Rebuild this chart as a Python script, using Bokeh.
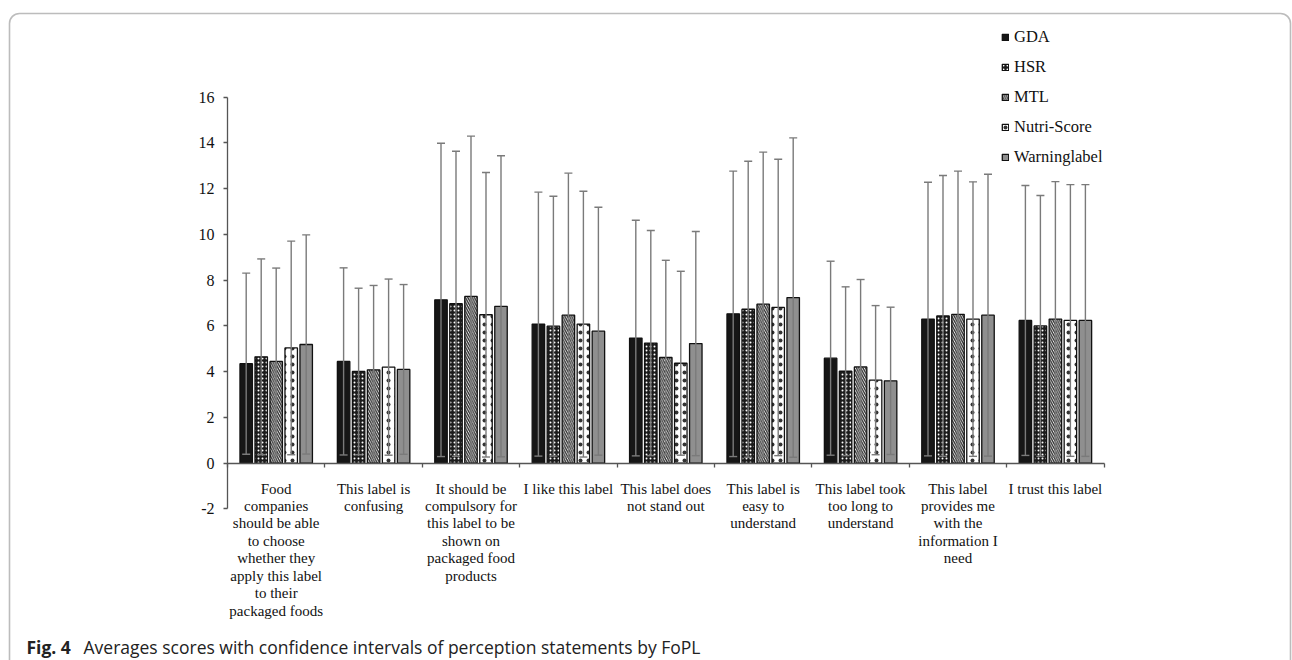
import numpy as np
from bokeh.plotting import figure
from bokeh.models import (ColumnDataSource, Range1d, FixedTicker, Whisker, TeeHead,
                          Legend, LegendItem, Label, BoxAnnotation)
from bokeh.core.properties import value
from bokeh.embed import file_html
from bokeh.resources import INLINE

# ---------------- data ----------------
statements = [
    "Food\ncompanies\nshould be able\nto choose\nwhether they\napply this label\nto their\npackaged foods",
    "This label is\nconfusing",
    "It should be\ncompulsory for\nthis label to be\nshown on\npackaged food\nproducts",
    "I like this label",
    "This label does\nnot stand out",
    "This label is\neasy to\nunderstand",
    "This label took\ntoo long to\nunderstand",
    "This label\nprovides me\nwith the\ninformation I\nneed",
    "I trust this label",
]
labels = ["GDA", "HSR", "MTL", "Nutri-Score", "Warninglabel"]

gda_mean   = [4.35, 4.45, 7.14, 6.08, 5.47, 6.53, 4.59, 6.30, 6.24]
hsr_mean   = [4.65, 4.01, 6.97, 5.99, 5.25, 6.73, 4.02, 6.44, 6.00]
mtl_mean   = [4.45, 4.08, 7.29, 6.47, 4.62, 6.95, 4.21, 6.51, 6.30]
nutri_mean = [5.04, 4.20, 6.49, 6.08, 4.37, 6.81, 3.63, 6.30, 6.24]
warn_mean  = [5.19, 4.10, 6.86, 5.77, 5.23, 7.24, 3.60, 6.47, 6.24]

gda_upper   = [8.31, 8.54, 13.99, 11.85, 10.62, 12.77, 8.83, 12.28, 12.14]
hsr_upper   = [8.93, 7.65, 13.64, 11.67, 10.17, 13.20, 7.71, 12.58, 11.70]
mtl_upper   = [8.53, 7.77, 14.30, 12.68, 8.87, 13.60, 8.03, 12.77, 12.31]
nutri_upper = [9.71, 8.05, 12.71, 11.89, 8.39, 13.29, 6.89, 12.30, 12.18]
warn_upper  = [9.98, 7.81, 13.44, 11.19, 10.13, 14.22, 6.82, 12.63, 12.18]

y_ticks = [-2, 0, 2, 4, 6, 8, 10, 12, 14, 16]
y_tick_labels = {-2: "-2"}

means = [gda_mean, hsr_mean, mtl_mean, nutri_mean, warn_mean]
uppers = [gda_upper, hsr_upper, mtl_upper, nutri_upper, warn_upper]

# ---------------- geometry ----------------
W, H = 1292, 660
PPX = 97.4      # px per category
PPY = 22.875    # px per unit
X0 = 227.0      # canvas px of x=0
Y0 = 462.7      # canvas px of y=0

def dx(px):
    return (px - X0) / PPX

def dy(py):
    return (Y0 - py) / PPY

p = figure(width=W, height=H, output_backend="svg", toolbar_location=None,
           x_range=Range1d(dx(0), dx(W)), y_range=Range1d(dy(H), dy(0)),
           min_border=0, min_border_left=0, min_border_right=0,
           min_border_top=0, min_border_bottom=0)
p.outline_line_color = None
p.xgrid.visible = False
p.ygrid.visible = False
p.background_fill_color = "white"
p.border_fill_color = "white"

axis_color = "#555555"
# y axis
ya = p.yaxis[0]
ya.fixed_location = 0
ya.bounds = (-2, 16)
ya.ticker = FixedTicker(ticks=y_ticks)
ya.major_label_overrides = y_tick_labels
ya.axis_line_color = axis_color
ya.axis_line_width = 1.3
ya.major_tick_line_color = axis_color
ya.major_tick_line_width = 1.3
ya.major_tick_in = 0
ya.major_tick_out = 4
ya.minor_tick_line_color = None
ya.major_label_text_font = "Liberation Serif"
ya.major_label_text_font_size = "16px"
ya.major_label_text_color = "#111111"
ya.major_label_standoff = 9

# x axis (at y=0, ticks between categories)
n = len(statements)
xa = p.xaxis[0]
xa.fixed_location = 0
xa.bounds = (0, n)
xa.ticker = FixedTicker(ticks=list(range(n + 1)))
xa.major_label_overrides = {i: "" for i in range(n + 1)}
xa.axis_line_color = axis_color
xa.axis_line_width = 1.3
xa.major_tick_line_color = axis_color
xa.major_tick_line_width = 1.3
xa.major_tick_in = 0
xa.major_tick_out = 4
xa.minor_tick_line_color = None

centers = np.arange(n) + 0.5
pitch = 0.154
bw = 0.128

styles = [
    dict(fill_color="#161616"),
    dict(fill_color="#1c1c1c", hatch_pattern="dot", hatch_color="white", hatch_scale=4, hatch_weight=2.4),
    dict(fill_color="white", hatch_pattern="left_diagonal_line", hatch_color="#2a2a2a", hatch_scale=4.5, hatch_weight=1.3),
    dict(fill_color="white", hatch_pattern="dot", hatch_color="#333333", hatch_scale=8, hatch_weight=1.0),
    dict(fill_color="#8f8f8f"),
]

err_color = "#7a7a7a"
legend_items = []
for k, (lab, m, u) in enumerate(zip(labels, means, uppers)):
    m = np.array(m)
    u = np.array(u)
    lo = 2 * m - u
    src = ColumnDataSource(dict(x=centers + (k - 2) * pitch, top=m, upper=u, lower=lo))
    r = p.vbar(x="x", top="top", bottom=0, width=bw, source=src,
               line_color="#111111", line_width=1.3, **styles[k])
    legend_items.append(LegendItem(label=lab, renderers=[r]))
    wh = Whisker(source=src, base="x", upper="upper", lower="lower",
                 line_color=err_color, line_width=1.4, level="annotation",
                 upper_head=TeeHead(size=8, line_color=err_color, line_width=1.4),
                 lower_head=TeeHead(size=8, line_color=err_color, line_width=1.4))
    p.add_layout(wh)

# category labels
lab_src = ColumnDataSource(dict(x=centers, y=[dy(480)] * n, text=statements))
p.text(x="x", y="y", text="text", source=lab_src, text_align="center",
       text_baseline="top", text_font=value("Liberation Serif"),
       text_font_size="15px", text_color="#111111", text_line_height=1.09)

# legend (location = bottom-left corner, measured from frame bottom-left)
legend = Legend(items=legend_items, location=(1001, H - 172), orientation="vertical",
                glyph_width=8, glyph_height=8, label_height=30, spacing=0,
                label_standoff=5, padding=0, margin=0,
                label_text_font="Liberation Serif", label_text_font_size="16.5px",
                label_text_color="#111111", border_line_color=None,
                background_fill_alpha=0)
p.add_layout(legend, "center")

# caption
p.add_layout(Label(x=dx(26), y=dy(646), text="Fig. 4", text_font="Open Sans",
                   text_font_style="bold", text_font_size="17.5px",
                   text_baseline="middle", text_color="#222222"))
p.add_layout(Label(x=dx(83), y=dy(646),
                   text="Averages scores with confidence intervals of perception statements by FoPL",
                   text_font="Open Sans", text_font_size="17.5px",
                   text_baseline="middle", text_color="#222222"))

# rounded frame
p.add_layout(BoxAnnotation(left=dx(9), right=dx(1290), top=dy(13), bottom=dy(740),
                           fill_alpha=0, line_color="#222222", line_width=1.6,
                           border_radius=10, level="overlay"))

open("out.html", "w").write(file_html(p, INLINE))
